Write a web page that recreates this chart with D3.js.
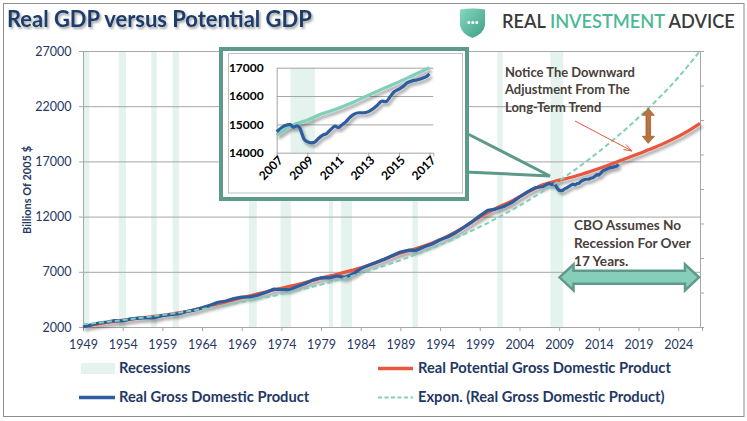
<!DOCTYPE html>
<html><head><meta charset="utf-8">
<script src="https://cdn.jsdelivr.net/npm/d3@7"></script>
<style>
body{margin:0;background:#fff}
svg{display:block}
text{font-family:Lato,"Open Sans","DejaVu Sans",sans-serif}
</style>
</head><body>
<svg id="chart" width="747" height="421"></svg>
<script>
// ---------------- DATA ----------------
const gdpYears = [1949,1950,1951,1952,1953,1954,1955,1956,1957,1958,1959,1960,1961,1962,1963,1964,1965,1966,1967,1968,1969,1970,1971,1972,1973,1974,1975,1976,1977,1978,1979,1980,1981,1982,1983,1984,1985,1986,1987,1988,1989,1990,1991,1992,1993,1994,1995,1996,1997,1998,1999,2000,2001,2002,2003,2004,2005,2006,
  2007,2007.25,2007.5,2007.75,2008,2008.25,2008.5,2008.75,2009,2009.25,2009.5,2009.75,2010,2010.25,2010.5,2010.75,2011,2011.25,2011.5,2011.75,2012,2012.25,2012.5,2012.75,2013,2013.25,2013.5,2013.75,2014,2014.25,2014.5,2014.75,2015,2015.25,2015.5,2015.75,2016,2016.25,2016.5];
const gdpValues = [2005,2184,2360,2456,2571,2556,2739,2797,2856,2835,3031,3109,3188,3384,3530,3734,3976,4239,4355,4569,4712,4722,4877,5134,5424,5396,5385,5675,5937,6267,6466,6451,6618,6491,6792,7285,7594,7861,8133,8475,8786,8955,8948,9267,9521,9905,10175,10561,11035,11526,12066,12560,12682,12909,13271,13774,14234,14614,
  14726,14839,14938,14991,14890,14963,14891,14577,14375,14356,14402,14541,14605,14746,14846,14939,14882,14990,15021,15191,15291,15362,15381,15384,15491,15521,15642,15800,15757,15935,16140,16228,16302,16397,16434,16470,16526,16583,16727];

const potentialYears = [1949,1951,1953,1955,1957,1959,1961,1963,1965,1967,1969,1971,1973,1975,1977,1979,1981,1983,1985,1987,1989,1991,1993,1995,1997,1999,2001,2003,2005,2007,2009,2011,2013,2015,2017,2019,2021,2023,2025,2026.75];
const potentialValues = [2060,2290,2510,2700,2880,3060,3280,3560,3900,4280,4650,5000,5350,5680,6030,6420,6780,7150,7600,8150,8700,9100,9600,10250,11050,11950,12750,13400,14200,14900,15300,15650,16100,16600,17150,17700,18250,18900,19650,20450];

const trendYears = [1949,1954,1959,1964,1969,1974,1979,1984,1989,1994,1999,2004,2009,2014,2019,2024,2026.75];
const trendValues = [2245,2630,3090,3620,4250,4980,5840,6860,8050,9440,11070,12990,15240,17880,20970,24600,27000];

const recessionStarts = [1948.9,1953.5,1957.6,1960.3,1969.9,1973.9,1980.0,1981.5,1990.5,2001.2,2007.9];
const recessionEnds   = [1949.8,1954.4,1958.3,1961.1,1970.9,1975.2,1980.5,1982.9,1991.2,2001.9,2009.5];

const yTicks = [2000,7000,12000,17000,22000,27000];
const xTicks = [1949,1954,1959,1964,1969,1974,1979,1984,1989,1994,1999,2004,2009,2014,2019,2024];
const rightTicks = [0,0.2,0.4,0.6,0.8,1.0,1.2,1.4,1.6];

// inset (zoom of 2007-2017)
const insetGdpYears = [2007,2007.33,2007.66,2007.87,2008.09,2008.31,2008.48,2008.64,2008.79,2009.0,2009.29,2009.51,2009.73,2010.01,2010.28,2010.54,2010.82,2011.04,2011.26,2011.52,2011.8,2012.07,2012.35,2012.68,2013.0,2013.33,2013.59,2013.88,2014.16,2014.42,2014.69,2014.97,2015.3,2015.56,2015.84,2016.17,2016.5,2016.83,2017.0];
const insetGdpValues = [14740,14890,14975,15000,14900,14945,14900,14690,14480,14390,14350,14385,14500,14620,14680,14820,14940,14890,14975,15090,15250,15360,15410,15410,15450,15560,15680,15820,15800,15975,16150,16235,16350,16470,16530,16565,16620,16700,16780];
const insetPotYears = [2007,2007.5,2008,2009,2010,2011,2012,2013,2014,2015,2016,2017];
const insetPotValues = [14620,14800,14960,15150,15380,15560,15780,16030,16270,16500,16750,17000];
const insetXTicks = [2007,2009,2011,2013,2015,2017];
const insetYTicks = [14000,15000,16000,17000];

const legendItems = ["Recessions","Real Potential Gross Domestic Product","Real Gross Domestic Product","Expon. (Real Gross Domestic Product)"];
const note1 = ["Notice The Downward","Adjustment From The","Long-Term Trend"];
const note2 = ["CBO Assumes No","Recession For Over","17 Years."];

// ---------------- STYLE ----------------
const C = {
  navy:"#1F3864", blue:"#2F5D9E", red:"#E9573F", teal:"#80CFBA", rec:"#E5F3EF",
  grid:"#A6A6A6", frame:"#8C8C8C", green:"#5E9A89", brown:"#B8733E", note:"#47403A"
};

const svg = d3.select("#chart");
const defs = svg.append("defs");
const sh = defs.append("filter").attr("id","lineShadow").attr("x","-5%").attr("y","-10%").attr("width","115%").attr("height","130%");
sh.append("feDropShadow").attr("dx",2).attr("dy",3).attr("stdDeviation",1.6).attr("flood-color","#000").attr("flood-opacity",0.35);
const tsh = defs.append("filter").attr("id","titleShadow").attr("x","-5%").attr("y","-20%").attr("width","115%").attr("height","160%");
tsh.append("feDropShadow").attr("dx",1.5).attr("dy",2).attr("stdDeviation",1.2).attr("flood-color","#000").attr("flood-opacity",0.35);
const lg = defs.append("linearGradient").attr("id","shieldGrad").attr("x1","0").attr("y1","0").attr("x2","1").attr("y2","1");
lg.append("stop").attr("offset","0").attr("stop-color","#86D7C0");
lg.append("stop").attr("offset","1").attr("stop-color","#3E9E86");

function fit(sel, target){
  const w = sel.node().getComputedTextLength();
  const fs = parseFloat(sel.attr("font-size"));
  sel.attr("font-size", fs*target/w);
  return fs*target/w;
}

// frame
svg.append("rect").attr("x",3.5).attr("y",3.5).attr("width",740.5).attr("height",413)
  .attr("fill","none").attr("stroke",C.frame).attr("stroke-width",1);

// title
const title = svg.append("text").attr("x",7).attr("y",27).attr("font-size",21).attr("font-weight",700)
  .attr("fill","#1F3D6B").attr("filter","url(#titleShadow)").text("Real GDP versus Potential GDP");
fit(title, 305);

// logo
svg.append("path").attr("d","M460,9.5 Q472.5,7.5 485,9.5 L485,25 Q484,33.5 472.5,38 Q461,33.5 460,25 Z").attr("fill","url(#shieldGrad)");
[468.8,472.8,476.8].forEach(cx=>svg.append("circle").attr("cx",cx).attr("cy",22.5).attr("r",1.5).attr("fill","#fff"));
const logo = svg.append("text").attr("x",502).attr("y",27.5).attr("font-size",15).attr("font-weight",600)
  .attr("font-family","'Open Sans',Lato,sans-serif").attr("fill","#3A3A3A");
logo.append("tspan").text("REAL ");
logo.append("tspan").attr("fill","#4DB898").text("INVESTMENT");
logo.append("tspan").text(" ADVICE");
fit(logo, 233);

// ---------------- MAIN CHART ----------------
const x = d3.scaleLinear().domain([1949,2027]).range([83,702]);
const y = d3.scaleLinear().domain([2000,27000]).range([327,51]);
const xRight = x(2026.75);
const yR = d3.scaleLinear().domain([0,1.6]).range([327,51]);

const plot = svg.append("g");
// recession bands
plot.selectAll("rect.rec").data(recessionStarts.map((s,i)=>[s,recessionEnds[i]])).join("rect")
  .attr("x",d=>x(Math.max(d[0],1949))).attr("width",d=>x(d[1])-x(Math.max(d[0],1949)))
  .attr("y",y(27000)).attr("height",y(2000)-y(27000)).attr("fill",C.rec);

// gridlines
plot.append("g").attr("transform",`translate(83,0)`)
  .call(d3.axisLeft(y).tickValues(yTicks.slice(1)).tickSize(-(xRight-83)).tickFormat(""))
  .call(g=>g.select(".domain").remove())
  .call(g=>g.selectAll("line").attr("stroke",C.grid));

// left axis
plot.append("g").attr("transform","translate(83,0)")
  .call(d3.axisLeft(y).tickValues(yTicks).tickSize(4).tickPadding(7.5).tickFormat(d3.format("d")))
  .call(g=>g.select(".domain").attr("stroke",C.grid))
  .call(g=>g.selectAll("line").attr("stroke",C.grid))
  .call(g=>g.selectAll("text").attr("fill",C.navy).attr("font-size",12.5).attr("font-family","Lato,sans-serif"));

// right (secondary) axis
plot.append("g").attr("transform",`translate(${xRight},0)`)
  .call(d3.axisRight(yR).tickValues(rightTicks).tickSize(4).tickFormat(""))
  .call(g=>g.select(".domain").attr("stroke",C.grid))
  .call(g=>g.selectAll("line").attr("stroke",C.grid));

// bottom axis
plot.append("g").attr("transform","translate(0,327)")
  .call(d3.axisBottom(x).tickValues(xTicks).tickSize(4).tickPadding(9).tickFormat(d3.format("d")))
  .call(g=>g.select(".domain").attr("stroke",C.grid))
  .call(g=>g.selectAll("line").attr("stroke",C.grid))
  .call(g=>g.selectAll("text").attr("fill",C.navy).attr("font-size",12.5).attr("font-family","Lato,sans-serif"));

// y axis title
svg.append("text").attr("transform","translate(31,190) rotate(-90)").attr("text-anchor","middle")
  .attr("font-size",11).attr("font-weight",700).attr("fill",C.navy).text("Billions  Of 2005 $");

// ---------------- INSET CALLOUT (behind lines) ----------------
svg.append("path").attr("d", d3.line()([[466,133],[550,176],[466,172]]) + "Z")
  .attr("fill","#fff").attr("stroke",C.green).attr("stroke-width",3).attr("stroke-linejoin","miter");

// lines
const lineGen = d3.line().x(d=>x(d[0])).y(d=>y(d[1])).curve(d3.curveLinear);
const lines = svg.append("g").attr("filter","url(#lineShadow)");
lines.append("path").attr("d", d3.line().x(d=>x(d[0])).y(d=>y(d[1])).curve(d3.curveMonotoneX)(potentialYears.map((v,i)=>[v,potentialValues[i]])))
  .attr("fill","none").attr("stroke",C.red).attr("stroke-width",3.2);
lines.append("path").attr("d", lineGen(gdpYears.map((v,i)=>[v,gdpValues[i]])))
  .attr("fill","none").attr("stroke",C.blue).attr("stroke-width",3.2).attr("stroke-linejoin","round");
svg.append("path").attr("d", d3.line().x(d=>x(d[0])).y(d=>y(d[1])).curve(d3.curveMonotoneX)(trendYears.map((v,i)=>[v,trendValues[i]])))
  .attr("fill","none").attr("stroke",C.teal).attr("stroke-width",2).attr("stroke-dasharray","5,3");

// ---------------- INSET ----------------
const inset = svg.append("g");
inset.append("rect").attr("x",221).attr("y",49).attr("width",246).attr("height",150)
  .attr("fill","#fff").attr("stroke",C.green).attr("stroke-width",4);
inset.append("rect").attr("x",228.5).attr("y",53.5).attr("width",234).attr("height",139.5)
  .attr("fill","none").attr("stroke","#BFBFBF").attr("stroke-width",1);
const ix = d3.scaleLinear().domain([2007,2017.25]).range([276.7,433.3]);
const iy = d3.scaleLinear().domain([14000,17000]).range([152.7,67.7]);
inset.selectAll("rect.irec").data(recessionStarts.map((s,i)=>[s,recessionEnds[i]]).filter(d=>d[1]>2007)).join("rect")
  .attr("x",d=>ix(Math.max(d[0],2007.75))).attr("width",d=>ix(d[1])-ix(Math.max(d[0],2007.75)))
  .attr("y",iy(17000)).attr("height",iy(14000)-iy(17000)).attr("fill",C.rec);
inset.append("g").attr("transform","translate(276.7,0)")
  .call(d3.axisLeft(iy).tickValues(insetYTicks.slice(1)).tickSize(-(433.3-276.7)).tickFormat(""))
  .call(g=>g.select(".domain").remove())
  .call(g=>g.selectAll("line").attr("stroke",C.grid));
inset.append("g").attr("transform","translate(276.7,0)")
  .call(d3.axisLeft(iy).tickValues(insetYTicks).tickSize(0).tickPadding(13).tickFormat(d3.format("d")))
  .call(g=>g.select(".domain").attr("stroke",C.grid))
  .call(g=>g.selectAll("text").attr("fill","#000").attr("font-size",12).attr("font-weight",700).attr("font-family","Lato,sans-serif"));
inset.append("g").attr("transform","translate(0,152.7)")
  .call(d3.axisBottom(ix).tickValues(insetXTicks).tickSize(3.5).tickFormat(""))
  .call(g=>g.select(".domain").attr("stroke",C.grid))
  .call(g=>g.selectAll("line").attr("stroke",C.grid));
inset.selectAll("text.ixl").data(insetXTicks).join("text").attr("class","ixl")
  .attr("transform",d=>`translate(${ix(d)+4},158) rotate(-45)`)
  .attr("text-anchor","end").attr("dy","0.35em")
  .attr("fill","#000").attr("font-size",12).attr("font-weight",700).text(d=>d);
const ilines = inset.append("g").attr("filter","url(#lineShadow)");
ilines.append("path").attr("d", d3.line().x(d=>ix(d[0])).y(d=>iy(d[1])).curve(d3.curveMonotoneX)(insetPotYears.map((v,i)=>[v,insetPotValues[i]])))
  .attr("fill","none").attr("stroke",C.teal).attr("stroke-width",3.2);
ilines.append("path").attr("d", d3.line().x(d=>ix(d[0])).y(d=>iy(d[1])).curve(d3.curveMonotoneX)(insetGdpYears.map((v,i)=>[v,insetGdpValues[i]])))
  .attr("fill","none").attr("stroke",C.blue).attr("stroke-width",3.2);

// ---------------- ANNOTATIONS ----------------
const n1 = svg.append("g");
note1.forEach((t,i)=>n1.append("text").attr("x",505).attr("y",76.5+i*17.8).attr("font-size",13).attr("font-weight",700).attr("fill",C.note).text(t));
const fs1 = fit(n1.select("text"), 130);
n1.selectAll("text").attr("font-size",fs1);
const n2 = svg.append("g");
note2.forEach((t,i)=>n2.append("text").attr("x",574).attr("y",229.5+i*18.3).attr("font-size",13).attr("font-weight",700).attr("fill",C.note).text(t));
const fs2 = fit(n2.select("text:nth-child(2)"), 117);
n2.selectAll("text").attr("font-size",fs2);

// thin red arrow
svg.append("line").attr("x1",575).attr("y1",121).attr("x2",632).attr("y2",151).attr("stroke",C.red).attr("stroke-width",1);
svg.append("path").attr("d","M623.5,149.5 L632,151 L626,144.5").attr("fill","none").attr("stroke",C.red).attr("stroke-width",1);

// brown double arrow (vertical)
const bx = 648.3, bt = 108.3, bb = 143.3;
svg.append("path").attr("d",`M${bx},${bt} L${bx+6},${bt+7} L${bx+2.3},${bt+7} L${bx+2.3},${bb-7} L${bx+6},${bb-7} L${bx},${bb} L${bx-6},${bb-7} L${bx-2.3},${bb-7} L${bx-2.3},${bt+7} L${bx-6},${bt+7} Z`)
  .attr("fill",C.brown).attr("stroke","#9C5E2E").attr("stroke-width",0.8);

// green double arrow (horizontal)
const gl = 559.5, gr = 699, gc = 277.3;
svg.append("path").attr("d",`M${gl},${gc} L${gl+14},${gc-13} L${gl+14},${gc-6.5} L${gr-14},${gc-6.5} L${gr-14},${gc-13} L${gr},${gc} L${gr-14},${gc+13} L${gr-14},${gc+6.5} L${gl+14},${gc+6.5} L${gl+14},${gc+13} Z`)
  .attr("fill","#86CEBA").attr("stroke",C.green).attr("stroke-width",2.5).attr("stroke-linejoin","miter");

// ---------------- LEGEND ----------------
const leg = svg.append("g");
leg.append("rect").attr("x",81).attr("y",363).attr("width",34).attr("height",11).attr("fill",C.rec);
leg.append("line").attr("x1",378).attr("x2",413).attr("y1",368.5).attr("y2",368.5).attr("stroke",C.red).attr("stroke-width",3.5);
leg.append("line").attr("x1",79).attr("x2",115).attr("y1",397.5).attr("y2",397.5).attr("stroke",C.blue).attr("stroke-width",3.5);
leg.append("line").attr("x1",378).attr("x2",413).attr("y1",397.5).attr("y2",397.5).attr("stroke",C.teal).attr("stroke-width",2).attr("stroke-dasharray","4,2.5");
const legPos = [[119,373],[418,373],[119,402],[418,402]];
const legTexts = legendItems.map((t,i)=>leg.append("text").attr("x",legPos[i][0]).attr("y",legPos[i][1])
  .attr("font-size",13).attr("font-weight",700).attr("fill",C.navy).text(t));
const lfs = fit(legTexts[1], 253);
legTexts.forEach(t=>t.attr("font-size",lfs));
</script>
</body></html>
